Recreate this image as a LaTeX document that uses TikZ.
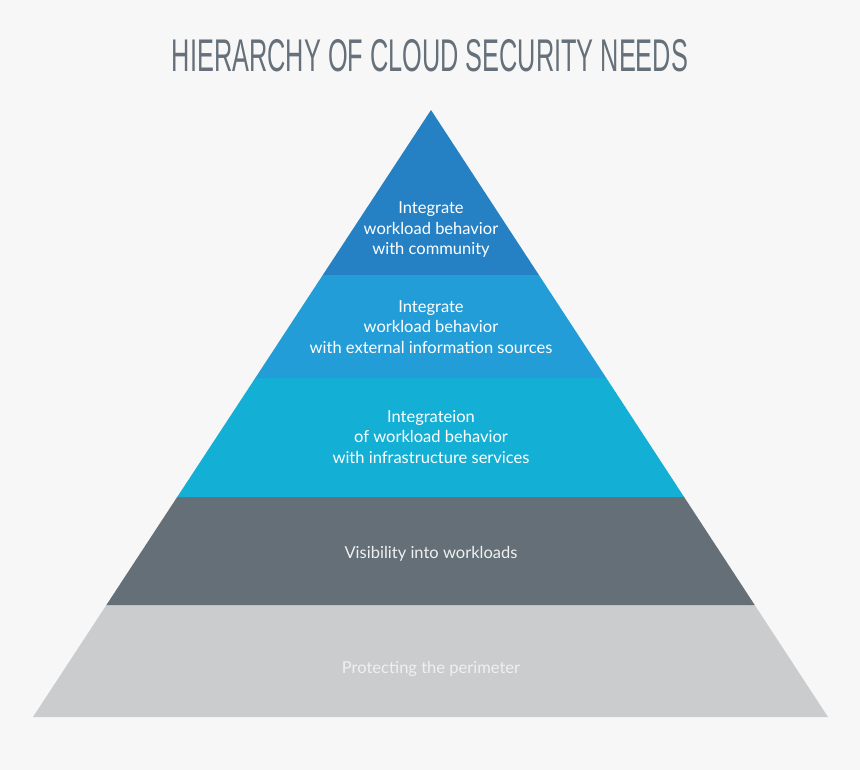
\documentclass[tikz,border=0pt]{standalone}
\usepackage{fontspec}
\setmainfont{Lato}
\newfontfamily\titlefont{Liberation Sans}
\usetikzlibrary{calc}
\definecolor{bg}{HTML}{F7F7F7}
\definecolor{layA}{HTML}{2581C4}
\definecolor{layB}{HTML}{239DD7}
\definecolor{layC}{HTML}{14AFD4}
\definecolor{layD}{HTML}{646F77}
\definecolor{layE}{HTML}{CBCCCE}
\definecolor{titlegrey}{HTML}{65707A}
\definecolor{paletext}{HTML}{F0F0F0}
\begin{document}
\begin{tikzpicture}[x=1pt,y=-1pt,
  layertext/.style={align=center,text=white,font=\fontsize{16.5}{20.5}\selectfont},
  layer/.style={draw=none}]
\useasboundingbox[fill=bg] (0,0) rectangle (860,770);
% key points of the pyramid
\coordinate (apex) at (431,110);
\coordinate (l1) at (322.8,275); \coordinate (r1) at (538.9,275);
\coordinate (l2) at (255.3,378); \coordinate (r2) at (606.3,378);
\coordinate (l3) at (177.2,497); \coordinate (r3) at (684.1,497);
\coordinate (l4) at (106.4,605); \coordinate (r4) at (754.7,605);
\coordinate (l5) at (33,717);    \coordinate (r5) at (828,717);
% layers
\fill[layE] (l4) -- (r4) -- (r5) -- (l5) -- cycle;
\fill[layD] (l3) -- (r3) -- (r4) -- (l4) -- cycle;
\fill[layC] (l2) -- (r2) -- (r3) -- (l3) -- cycle;
\fill[layB] (l1) -- (r1) -- (r2) -- (l2) -- cycle;
\fill[layA] (apex) -- (r1) -- (l1) -- cycle;
% title
\node (title) at (430,56) {\color{titlegrey}\resizebox{516pt}{32pt}{\titlefont HIERARCHY OF CLOUD SECURITY NEEDS}};
% labels
\node[layertext] (t1) at (431,230) {Integrate\\workload behavior\\with community};
\node[layertext] (t2) at (431,327) {Integrate\\workload behavior\\with external information sources};
\node[layertext] (t3) at (431,437) {Integrateion\\of workload behavior\\with infrastructure services};
\node[layertext,text=paletext] (t4) at (431,554) {Visibility into workloads};
\node[layertext,text=paletext] (t5) at (431,669) {Protecting the perimeter};
\end{tikzpicture}
\end{document}
